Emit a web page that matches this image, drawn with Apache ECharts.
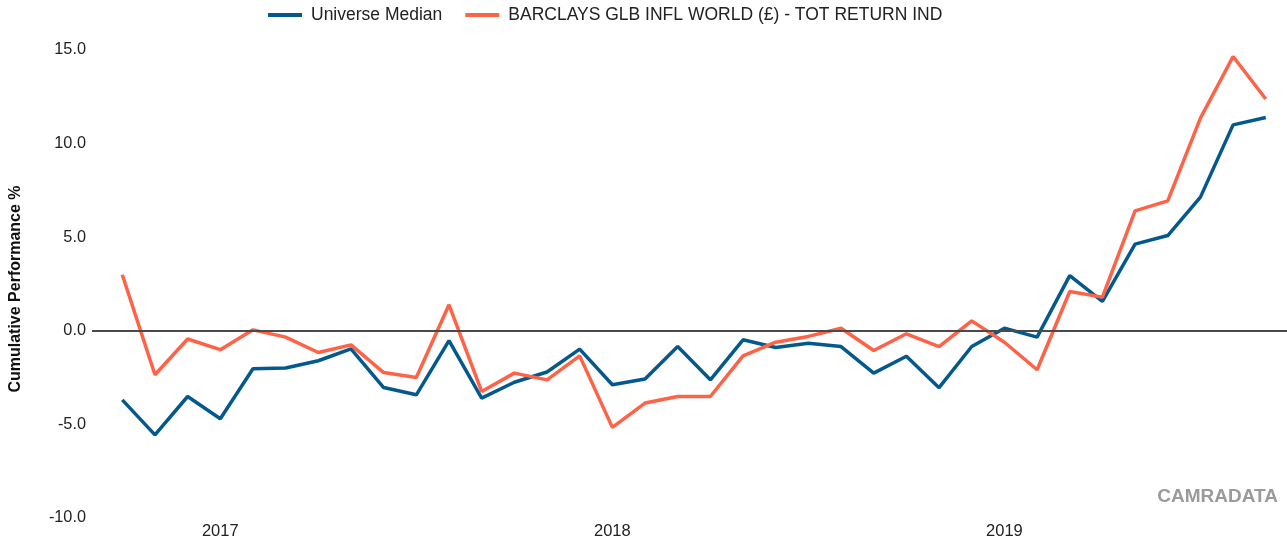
<!DOCTYPE html>
<html>
<head>
<meta charset="utf-8">
<script src="https://cdn.jsdelivr.net/npm/echarts@6/dist/echarts.min.js"></script>
<style>
html,body{margin:0;padding:0;background:#fff;}
#chart{width:1287px;height:547px;}
</style>
</head>
<body>
<div id="chart"></div>
<script>
// Months: Oct 2016 .. Sep 2019 (36 monthly points)
const months = [
  '2016-10','2016-11','2016-12',
  '2017-01','2017-02','2017-03','2017-04','2017-05','2017-06','2017-07','2017-08','2017-09','2017-10','2017-11','2017-12',
  '2018-01','2018-02','2018-03','2018-04','2018-05','2018-06','2018-07','2018-08','2018-09','2018-10','2018-11','2018-12',
  '2019-01','2019-02','2019-03','2019-04','2019-05','2019-06','2019-07','2019-08','2019-09'
];
const universeMedian = [-3.69, -5.56, -3.51, -4.70, -2.03, -1.99, -1.60, -0.96, -3.03, -3.42, -0.52, -3.60,
  -2.75, -2.20, -0.98, -2.88, -2.58, -0.84, -2.62, -0.48, -0.89, -0.66, -0.84, -2.26,
  -1.36, -3.04, -0.84, 0.14, -0.34, 2.95, 1.57, 4.63, 5.09, 7.14, 11.00, 11.39];
const barclays = [2.99, -2.35, -0.44, -1.01, 0.05, -0.34, -1.16, -0.75, -2.23, -2.49, 1.39, -3.24,
  -2.26, -2.62, -1.34, -5.16, -3.86, -3.51, -3.51, -1.34, -0.61, -0.30, 0.14, -1.05,
  -0.16, -0.84, 0.53, -0.61, -2.08, 2.10, 1.80, 6.41, 6.94, 11.36, 14.65, 12.38];
const seriesNames = ['Universe Median', 'BARCLAYS GLB INFL WORLD (£) - TOT RETURN IND'];
const yearTickIndex = [3, 15, 27];
const yearTickLabels = ['2017', '2018', '2019'];
const yTicks = [-10, -5, 0, 5, 10, 15];

const FONT = "'Liberation Sans', Arial, sans-serif";
const toPairs = arr => arr.map((v, i) => [i, v]);

const chart = echarts.init(document.getElementById('chart'), null, {renderer: 'canvas'});
chart.setOption({
  animation: false,
  backgroundColor: '#ffffff',
  textStyle: {fontFamily: FONT},
  title: {
    text: 'CAMRADATA',
    right: 4,
    top: 482,
    textStyle: {fontFamily: FONT, fontWeight: 'bold', fontSize: 19, color: '#9a9a9a'}
  },
  legend: {
    left: 263,
    top: 1,
    itemWidth: 34,
    itemHeight: 4,
    itemGap: 23,
    icon: 'rect',
    textStyle: {fontFamily: FONT, fontSize: 17.5, color: '#222', padding: [0, 0, 0, 4]},
    data: seriesNames
  },
  grid: {left: 92, right: 0, top: 50, bottom: 29, containLabel: false, outerBoundsMode: 'none'},
  xAxis: {
    type: 'value',
    min: -0.927,
    max: 35.65,
    axisLine: {show: false},
    axisTick: {show: false},
    splitLine: {show: false},
    axisLabel: {
      customValues: yearTickIndex,
      formatter: v => yearTickLabels[yearTickIndex.indexOf(Math.round(v))] || '',
      fontFamily: FONT,
      fontSize: 16.5,
      color: '#222',
      margin: 5
    }
  },
  yAxis: {
    type: 'value',
    min: yTicks[0],
    max: yTicks[yTicks.length - 1],
    interval: 5,
    name: 'Cumulative Performance %',
    nameLocation: 'middle',
    nameGap: 68,
    nameTextStyle: {fontFamily: FONT, fontWeight: 'bold', fontSize: 16, color: '#111', padding: [0, 10, 0, 0]},
    axisLine: {show: false},
    axisTick: {show: false},
    splitLine: {show: false},
    axisLabel: {
      formatter: v => v.toFixed(1),
      fontFamily: FONT,
      fontSize: 16.3,
      color: '#222',
      margin: 6
    }
  },
  series: [
    {
      name: seriesNames[0],
      type: 'line',
      data: toPairs(universeMedian),
      symbol: 'none',
      lineStyle: {width: 3.5, color: '#04598c'},
      itemStyle: {color: '#04598c'},
      markLine: {
        silent: true,
        symbol: 'none',
        label: {show: false},
        lineStyle: {color: '#4a4a4a', width: 2, type: 'solid'},
        data: [{yAxis: 0}]
      },
      z: 2
    },
    {
      name: seriesNames[1],
      type: 'line',
      data: toPairs(barclays),
      symbol: 'none',
      lineStyle: {width: 3.5, color: '#ff6347'},
      itemStyle: {color: '#ff6347'},
      z: 3
    }
  ]
});
</script>
</body>
</html>
